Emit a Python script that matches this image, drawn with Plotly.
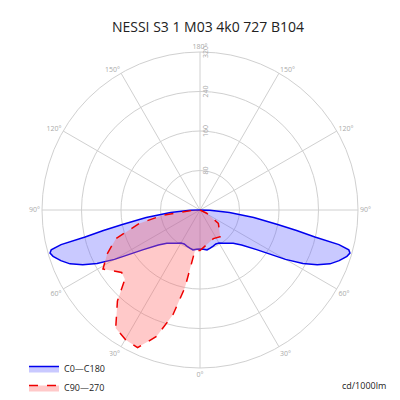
import plotly.graph_objects as go

# C0-C180 (symmetric), gamma from nadir in degrees, intensity cd/1000lm
c0_gamma = [0, 5, 10, 15, 20, 25, 30, 35, 40, 45, 50, 55, 60, 62.5, 65, 67.5, 70, 72.5, 74, 75, 76, 76.8, 78, 79.4, 82, 85, 88, 90]
c0_cd = [79, 80, 82, 80, 78, 76, 77, 82, 88, 95, 110, 140, 200, 235, 262, 285, 300, 312, 316, 312, 290, 239, 200, 160, 110, 60, 20, 0]

# C90-C270, right side (positive) and left side (negative gamma)
c90_gamma = [90, 64, 54, 37, 25, 0, -7, -11, -14.5, -19, -24.4, -29.7, -35.5, -42.2, -47.3, -51.4, -58.7, -64.7, -71.2, -77.5, -82, -90]
c90_cd = [0, 15, 46, 68, 64, 82, 82, 160, 219, 271, 306, 303, 294, 249, 207, 203, 230, 208, 180, 126, 76, 10]

c0_theta = [g for g in c0_gamma] + [360 - g for g in reversed(c0_gamma)]
c0_r = c0_cd + list(reversed(c0_cd))
c90_theta = [g % 360 for g in c90_gamma]

tick_vals = list(range(0, 360, 30))
tick_text = [f"{v if v <= 180 else 360 - v}°" for v in tick_vals]

fig = go.Figure()
fig.add_trace(go.Scatterpolar(r=c0_r, theta=c0_theta, name="C0—C180", mode="lines",
                              line=dict(color="#0000ee", width=1.5), fill="toself",
                              fillcolor="rgba(100,100,255,0.35)"))
fig.add_trace(go.Scatterpolar(r=c90_cd + [c90_cd[0]], theta=c90_theta + [c90_theta[0]], name="C90—270",
                              mode="lines", line=dict(color="#ee0000", width=1.5, dash="dash"),
                              fill="toself", fillcolor="rgba(255,100,100,0.35)"))

fig.update_layout(
    width=400, height=400, paper_bgcolor="white",
    font=dict(family="Open Sans", color="#222"),
    title=dict(text="NESSI S3 1 M03 4k0 727 B104", x=0.5, y=0.965, xanchor="center", font=dict(size=14)),
    margin=dict(l=0, r=0, t=0, b=0),
    polar=dict(
        domain=dict(x=[0.085, 0.875], y=[0.1, 0.89]),
        bgcolor="white",
        angularaxis=dict(rotation=270, direction="counterclockwise", tickvals=tick_vals, ticktext=tick_text,
                         gridcolor="#d0d0d0", linecolor="#d0d0d0", ticks="", tickfont=dict(size=7, color="#aaa")),
        radialaxis=dict(range=[0, 320], tickvals=[80, 160, 240, 320], angle=90, tickangle=0, gridcolor="#d0d0d0",
                        showline=False, ticks="", tickfont=dict(size=7, color="#aaa")),
    ),
    legend=dict(x=0.04, y=0.135, xanchor="left", yanchor="top", font=dict(size=9), tracegroupgap=8),
    annotations=[dict(text="cd/1000lm", x=0.95, y=0.035, xref="paper", yref="paper", xanchor="right",
                      showarrow=False, font=dict(size=9))],
)
fig.write_html("out.html")
